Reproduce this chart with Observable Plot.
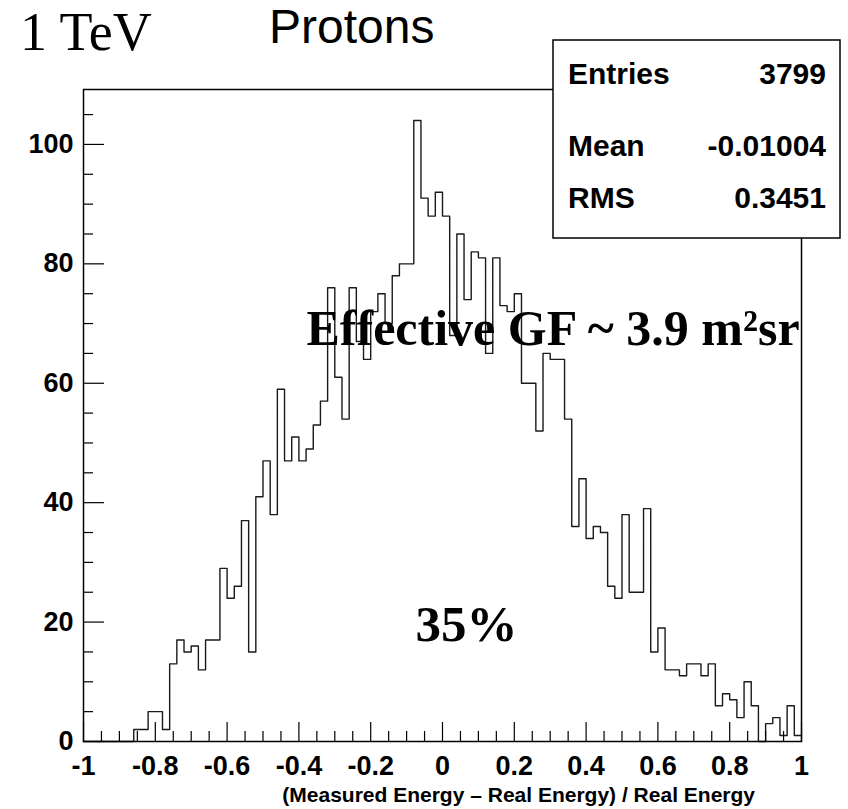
<!DOCTYPE html>
<html><head><meta charset="utf-8">
<script src="https://cdn.jsdelivr.net/npm/d3@7"></script>
<script src="https://cdn.jsdelivr.net/npm/@observablehq/plot@0.6"></script>
<style>
body{margin:0;background:#fff;}
#wrap{position:relative;width:848px;height:809px;overflow:hidden;background:#fff;}
#wrap svg{position:absolute;left:0;top:0;}
</style></head><body><div id="wrap"></div>
<script>
// ---- data ----
const binLow = -1;
const binWidth = 0.02;
const counts = [
  0, 0, 0, 0, 0, 0, 0, 2, 2, 5,
  5, 2, 13, 17, 15, 16, 12, 17, 17, 29,
  24, 26, 37, 15, 41, 47, 38, 59, 47, 51,
  47, 49, 53, 57, 76, 61, 54, 76, 67, 64,
  72, 75, 70, 78, 80, 80, 104, 91, 88, 92,
  88, 68, 85, 74, 82, 81, 65, 81, 73, 72,
  75, 60, 60, 52, 65, 64, 64, 54, 36, 44,
  34, 36, 35, 26, 24, 38, 25, 25, 39, 15,
  19, 12, 12, 11, 13, 13, 11, 13, 6, 8,
  7, 4, 10, 6, 0, 3, 4, 1, 6, 1
];
const xTickLabels = [-1, -0.8, -0.6, -0.4, -0.2, 0, 0.2, 0.4, 0.6, 0.8, 1];
const yTickLabels = [0, 20, 40, 60, 80, 100];
const statNames = ["Entries", "Mean", "RMS"];
const statValues = ["3799", "-0.01004", "0.3451"];
const titleLeft = "1 TeV";
const titleMain = "Protons";
const xTitle = "(Measured Energy \u2013 Real Energy) / Real Energy";
const noteGF = "Effective GF ~ 3.9 m\u00B2sr";
const noteRes = "35%";

// ---- layout ----
const W = 848, H = 809;
const mL = 83, mR = 47, mT = 89, mB = 68;
const yMax = 109.2;
const pxX = (W - mL - mR) / 2;       // px per x unit
const pxY = (H - mT - mB) / yMax;    // px per y unit

const points = counts.map((c, i) => ({x: binLow + binWidth * i, y: c}));
points.push({x: binLow + binWidth * counts.length, y: counts[counts.length - 1]});

const minorX = d3.range(-20, 21).map(k => k * 0.05).filter(v => Math.abs(Math.round(v * 5) - v * 5) > 1e-6);
const minorY = d3.range(0, yMax, 5).filter(v => v % 20 !== 0);

const chart = Plot.plot({
  width: W, height: H,
  marginLeft: mL, marginRight: mR, marginTop: mT, marginBottom: mB,
  x: {domain: [-1, 1], label: null},
  y: {domain: [0, yMax], label: null},
  style: {fontFamily: "Liberation Sans, Arial, sans-serif", background: "white", color: "black"},
  marks: [
    Plot.line(points, {x: "x", y: "y", curve: "step-after", stroke: "#1a1a1a", strokeWidth: 1.4}),
    // inward ticks
    Plot.ruleX(xTickLabels, {x: d => d, y1: 0, y2: 19 / pxY, stroke: "black", strokeWidth: 1.2}),
    Plot.ruleX(minorX, {x: d => d, y1: 0, y2: 10 / pxY, stroke: "black", strokeWidth: 1.2}),
    Plot.ruleY(yTickLabels, {y: d => d, x1: -1, x2: -1 + 21 / pxX, stroke: "black", strokeWidth: 1.2}),
    Plot.ruleY(minorY, {y: d => d, x1: -1, x2: -1 + 10 / pxX, stroke: "black", strokeWidth: 1.2}),
    Plot.frame({stroke: "black", strokeWidth: 1.5}),
    Plot.axisX(xTickLabels, {tickSize: 0, tickPadding: 14, tickFormat: d => String(d), fontSize: 27, fontWeight: "bold", label: null}),
    Plot.axisY(yTickLabels, {tickSize: 0, tickPadding: 10, tickFormat: d => String(d), fontSize: 27, fontWeight: "bold", label: null}),
    Plot.text([noteGF], {x: 0.308, y: 66.4, text: d => d, textAnchor: "middle", lineAnchor: "bottom",
      fontFamily: "Liberation Serif, serif", fontWeight: "bold", fontSize: 50, fill: "black"}),
    Plot.text([noteRes], {x: 0.067, y: 16.8, text: d => d, textAnchor: "middle", lineAnchor: "bottom",
      fontFamily: "Liberation Serif, serif", fontWeight: "bold", fontSize: 51, fill: "black"})
  ]
});
const wrap = document.getElementById("wrap");
wrap.appendChild(chart);

// ---- overlay: titles, stats box, axis title ----
const ov = d3.select(wrap).append("svg").attr("width", W).attr("height", H)
  .style("pointer-events", "none");
ov.append("text").attr("x", 20).attr("y", 50).text(titleLeft)
  .attr("font-family", "Liberation Serif, serif").attr("font-size", 54);
ov.append("text").attr("x", 269).attr("y", 43).text(titleMain)
  .attr("font-family", "Liberation Sans, Arial, sans-serif").attr("font-size", 48);
const box = {x: 553, y: 40, w: 287, h: 198};
ov.append("rect").attr("x", box.x).attr("y", box.y).attr("width", box.w).attr("height", box.h)
  .attr("fill", "white").attr("stroke", "black").attr("stroke-width", 1.5);
const rowY = [84, 156, 208];
statNames.forEach((n, i) => {
  ov.append("text").attr("x", box.x + 15).attr("y", rowY[i]).text(n)
    .attr("font-family", "Liberation Sans, Arial, sans-serif").attr("font-weight", "bold").attr("font-size", 30);
  ov.append("text").attr("x", box.x + box.w - 14).attr("y", rowY[i]).text(statValues[i])
    .attr("text-anchor", "end")
    .attr("font-family", "Liberation Sans, Arial, sans-serif").attr("font-weight", "bold").attr("font-size", 30);
});
ov.append("text").attr("x", 755).attr("y", 802).text(xTitle).attr("text-anchor", "end")
  .attr("font-family", "Liberation Sans, Arial, sans-serif").attr("font-weight", "bold").attr("font-size", 21);
</script></body></html>
